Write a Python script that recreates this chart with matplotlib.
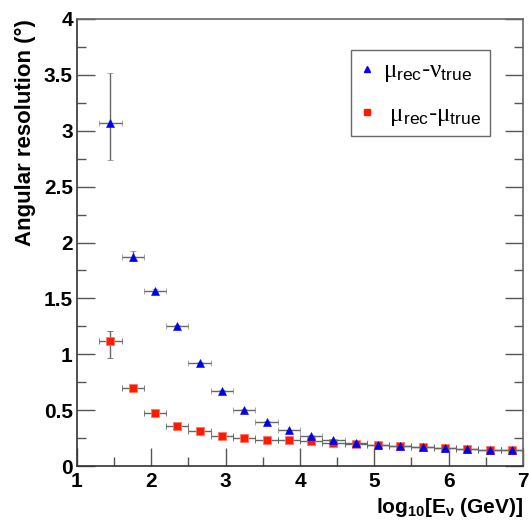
import matplotlib
matplotlib.use("Agg")
import matplotlib.pyplot as plt
from matplotlib.ticker import MultipleLocator
from matplotlib.lines import Line2D

plt.rcParams['font.family'] = ['Liberation Sans', 'DejaVu Sans']
plt.rcParams['mathtext.fontset'] = 'custom'
plt.rcParams['mathtext.rm'] = 'Liberation Sans'
plt.rcParams['mathtext.bf'] = 'Liberation Sans:bold'
plt.rcParams['mathtext.it'] = 'Liberation Serif'

log_e = [1.45, 1.75, 2.05, 2.35, 2.65, 2.95, 3.25, 3.55, 3.85, 4.15,
         4.45, 4.75, 5.05, 5.35, 5.65, 5.95, 6.25, 6.55, 6.85]
x_half = [0.15] * 19

nu_res = [3.07, 1.87, 1.57, 1.25, 0.92, 0.67, 0.50, 0.39, 0.32, 0.27,
          0.23, 0.21, 0.19, 0.18, 0.167, 0.16, 0.15, 0.14, 0.14]
nu_err_lo = [0.33, 0.04, 0.01, 0.01, 0.01, 0.01, 0.01, 0.01, 0.005, 0.005,
             0.005, 0.005, 0.005, 0.005, 0.005, 0.005, 0.005, 0.005, 0.005]
nu_err_hi = [0.45, 0.05, 0.01, 0.01, 0.01, 0.01, 0.01, 0.01, 0.005, 0.005,
             0.005, 0.005, 0.005, 0.005, 0.005, 0.005, 0.005, 0.005, 0.005]

mu_res = [1.12, 0.70, 0.47, 0.36, 0.31, 0.27, 0.25, 0.235, 0.23, 0.22,
          0.21, 0.20, 0.19, 0.18, 0.167, 0.16, 0.15, 0.14, 0.14]
mu_err_lo = [0.15, 0.01, 0.01, 0.005, 0.005, 0.005, 0.005, 0.005, 0.005, 0.005,
             0.005, 0.005, 0.005, 0.005, 0.005, 0.005, 0.005, 0.005, 0.005]
mu_err_hi = [0.09, 0.01, 0.01, 0.005, 0.005, 0.005, 0.005, 0.005, 0.005, 0.005,
             0.005, 0.005, 0.005, 0.005, 0.005, 0.005, 0.005, 0.005, 0.005]

fig = plt.figure(figsize=(5.29, 5.23), dpi=100)
ax = fig.add_axes([77/529, 1 - 466/523, (523 - 77)/529, (466 - 19)/523])

ecol = '#666666'
ax.errorbar(log_e, mu_res, xerr=x_half, yerr=[mu_err_lo, mu_err_hi],
            fmt='s', color='#ff1a00', ms=5.5, mec='#ff7766', mew=0.6,
            ecolor=ecol, elinewidth=1.0, capsize=2.5, capthick=1.0, zorder=3)
ax.errorbar(log_e, nu_res, xerr=x_half, yerr=[nu_err_lo, nu_err_hi],
            fmt='^', color='#0000f0', ms=5.5, mec='#0000f0', mew=0.4,
            ecolor=ecol, elinewidth=1.0, capsize=2.5, capthick=1.0, zorder=4)

ax.set_xlim(1, 7)
ax.set_ylim(0, 4)
ax.xaxis.set_major_locator(MultipleLocator(1))
ax.xaxis.set_minor_locator(MultipleLocator(0.5))
ax.yaxis.set_minor_locator(MultipleLocator(0.25))
ax.set_yticks([0, 0.5, 1, 1.5, 2, 2.5, 3, 3.5, 4])
ax.set_yticklabels(['0', '0.5', '1', '1.5', '2', '2.5', '3', '3.5', '4'])

ax.tick_params(which='both', direction='in', right=True, top=False,
               color='#555555', width=1.0)
ax.tick_params(which='major', length=13)
ax.tick_params(which='minor', length=6.5)
ax.tick_params(axis='both', labelsize=15)
ax.tick_params(axis='y', pad=3)
ax.tick_params(axis='x', pad=4)
for lab in ax.get_xticklabels() + ax.get_yticklabels():
    lab.set_fontweight('bold')

for s in ax.spines.values():
    s.set_color('#666666')
    s.set_linewidth(1.2)
ax.spines['left'].set_color('#333333')
ax.spines['bottom'].set_color('#333333')

ax.set_ylabel('Angular resolution (°)', fontsize=16, fontweight='bold')
ax.yaxis.set_label_coords(-0.093, 1.0)
ax.yaxis.label.set_horizontalalignment('right')
ax.set_xlabel(r'log$_{\mathbf{10}}$[E$_{\mathbf{\nu}}$ (GeV)]', fontsize=15, fontweight='bold')
ax.xaxis.set_label_coords(1.0, -0.068)
ax.xaxis.label.set_horizontalalignment('right')

h_nu = Line2D([], [], ls='none', marker='^', color='#0000f0', ms=4)
h_mu = Line2D([], [], ls='none', marker='s', color='#ff1a00', ms=4.5)
leg = ax.legend([h_nu, h_mu],
                [r'$\mu_{\mathrm{rec}}$-$\nu_{\mathrm{true}}$',
                 r' $\mu_{\mathrm{rec}}$-$\mu_{\mathrm{true}}$'],
                loc='upper left',
                bbox_to_anchor=((351 - 77)/446, 1 - (50 - 19)/447),
                fontsize=18, frameon=True, fancybox=False, edgecolor='#444444',
                handlelength=0.65, handletextpad=0.3, borderpad=0.33,
                labelspacing=0.7, borderaxespad=0)
leg.get_frame().set_linewidth(1.0)

fig.savefig('out.png', dpi=100)
